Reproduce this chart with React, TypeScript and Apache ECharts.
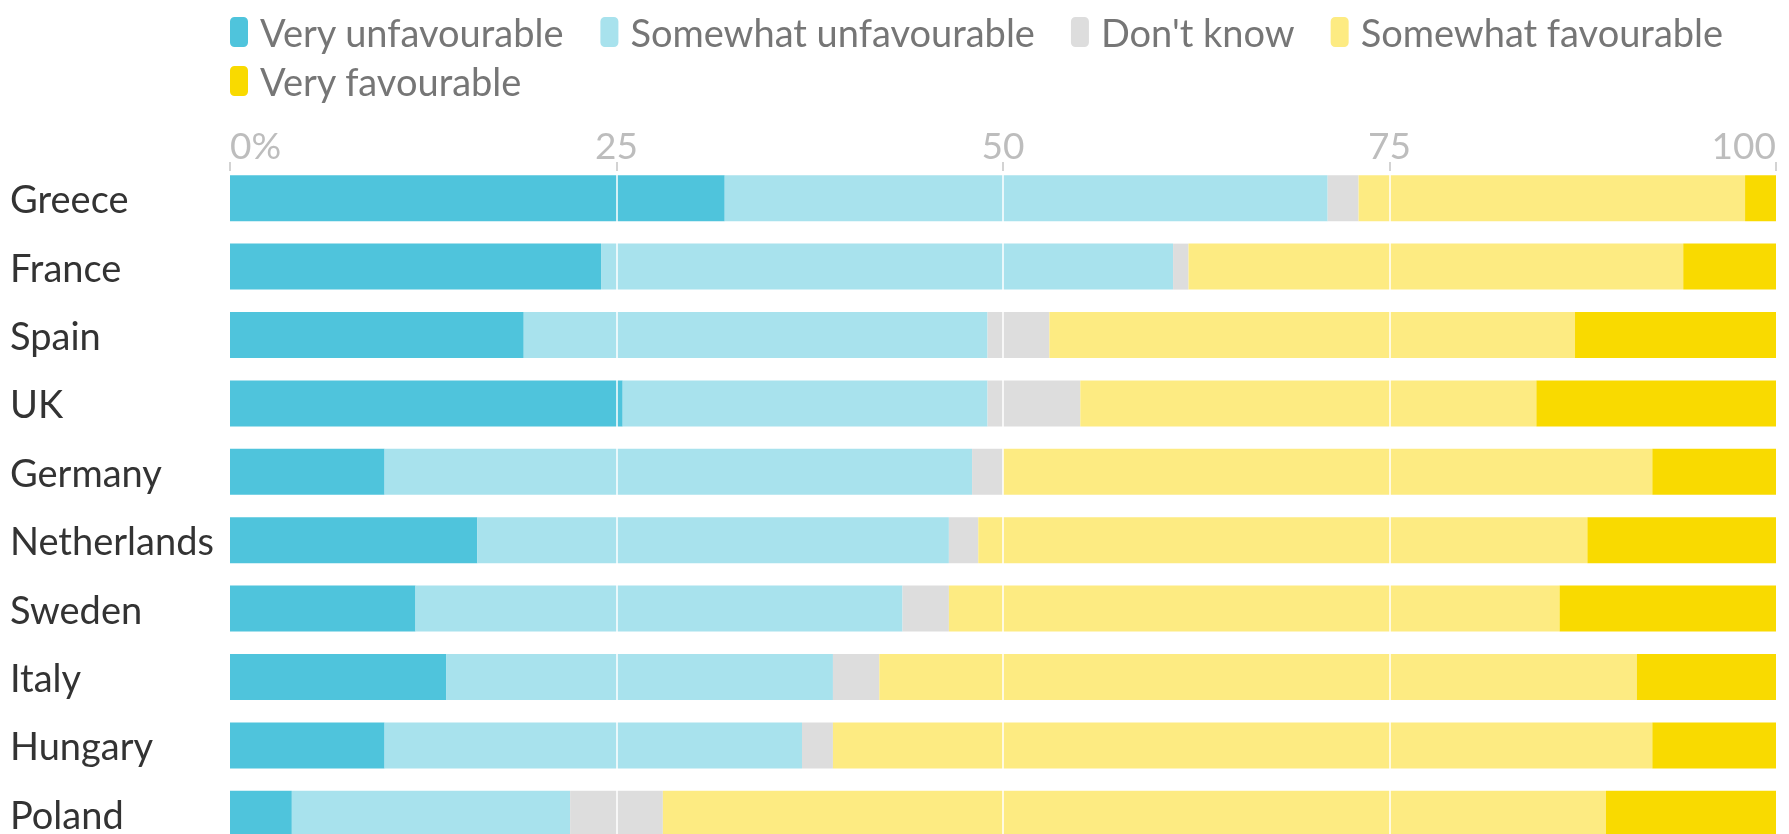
import React, { useEffect, useRef } from "react";
import * as echarts from "echarts";

const countries = ["Greece", "France", "Spain", "UK", "Germany", "Netherlands", "Sweden", "Italy", "Hungary", "Poland"];
const veryUnfavourable = [32, 24, 19, 25.4, 10, 16, 12, 14, 10, 4];
const somewhatUnfavourable = [39, 37, 30, 23.6, 38, 30.5, 31.5, 25, 27, 18];
const dontKnow = [2, 1, 4, 6, 2, 1.9, 3, 3, 2, 6];
const somewhatFavourable = [25, 32, 34, 29.5, 42, 39.4, 39.5, 49, 53, 61];
const veryFavourable = [2, 6, 13, 15.5, 8, 12.2, 14, 9, 8, 11];

const seriesNames = ["Very unfavourable", "Somewhat unfavourable", "Don't know", "Somewhat favourable", "Very favourable"];
const seriesColors = ["#4fc4dc", "#a8e2ed", "#dddddd", "#fdeb82", "#f9da00"];
const legendRow1 = seriesNames.slice(0, 4);
const legendRow2 = seriesNames.slice(4);
const tickLabels = ["0%", "25", "50", "75", "100"];

const FONT = "Lato";

export default function App() {
  const ref = useRef<HTMLDivElement>(null);
  useEffect(() => {
    if (!ref.current) return;
    const chart = echarts.init(ref.current, undefined, { renderer: "svg" });
    const values = [veryUnfavourable, somewhatUnfavourable, dontKnow, somewhatFavourable, veryFavourable];
    const legendBase = {
      left: 230,
      padding: 0,
      orient: "horizontal",
      itemWidth: 18,
      itemHeight: 30,
      itemGap: 36,
      icon: "roundRect",
      selectedMode: false,
      textStyle: { fontSize: 38, color: "#767676", fontFamily: FONT, padding: [0, 0, 0, 7], lineHeight: 30 },
    };
    chart.setOption({
      animation: false,
      textStyle: { fontFamily: FONT },
      legend: [
        { ...legendBase, data: legendRow1, top: 13 },
        { ...legendBase, data: legendRow2, top: 62 },
      ],
      grid: { left: 230, right: 13, top: 164, height: 684, containLabel: false },
      xAxis: [
        {
          type: "value",
          min: 0,
          max: 100,
          interval: 25,
          position: "bottom",
          z: 10,
          axisLine: { show: false },
          axisTick: { show: false },
          axisLabel: { show: false },
          splitLine: { show: true, showMinLine: false, showMaxLine: false, lineStyle: { color: "#ffffff", width: 1.5 } },
        },
        {
          type: "value",
          min: 0,
          max: 100,
          interval: 25,
          position: "top",
          offset: -7,
          z: 12,
          axisLine: { show: false },
          axisTick: { show: true, inside: false, length: 9, lineStyle: { color: "#c4c4c4", width: 1.5 } },
          splitLine: { show: false },
          axisLabel: {
            show: true,
            margin: 8,
            fontSize: 37,
            color: "#bdbdbd",
            fontFamily: FONT,
            alignMinLabel: "left",
            alignMaxLabel: "right",
            formatter: (v: number) => tickLabels[Math.round(v / 25)],
          },
        },
      ],
      yAxis: {
        type: "category",
        data: countries,
        inverse: true,
        axisLine: { show: false },
        axisTick: { show: false },
        splitLine: { show: false },
        axisLabel: { margin: 220, align: "left", fontSize: 38, color: "#333333", fontFamily: FONT, padding: [5, 0, 0, 0] },
      },
      series: seriesNames.map((name, i) => ({
        name,
        type: "bar",
        stack: "total",
        xAxisIndex: 0,
        barWidth: 46,
        itemStyle: { color: seriesColors[i] },
        data: values[i],
      })),
    });
    return () => chart.dispose();
  }, []);
  return <div ref={ref} style={{ position: "fixed", left: 0, top: 0, width: 1789, height: 870 }} />;
}
